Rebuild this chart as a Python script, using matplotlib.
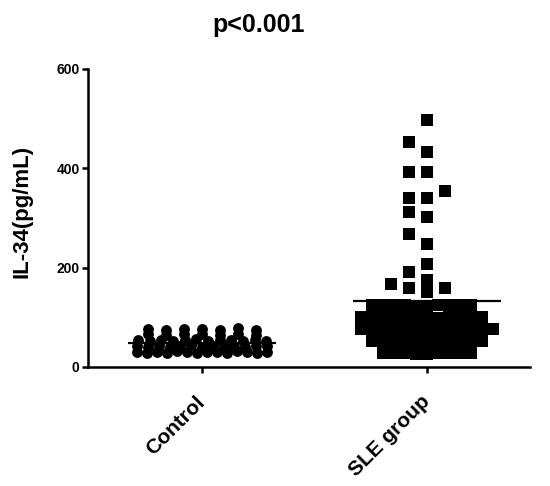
import numpy as np
import matplotlib
matplotlib.use("Agg")
import matplotlib.pyplot as plt

plt.rcParams['font.family'] = ['Liberation Sans', 'DejaVu Sans']
plt.rcParams['font.weight'] = 'bold'

# ---- data ----
categories = ["Control", "SLE group"]
control_values = [30, 29, 31, 28, 32, 30, 29, 31, 30, 28, 32, 31, 29, 30,
                  42, 41, 43, 40, 42, 44, 41, 43, 42, 40, 41, 43, 42,
                  54, 53, 55, 52, 54, 56, 53, 55, 54, 52, 55, 53,
                  66, 65, 67, 66, 64, 67, 65,
                  76, 75, 77, 76, 74, 78, 75]
sle_values = [28, 27, 29, 28, 28, 29, 27, 28, 29,
              52, 51, 53, 52, 52, 53, 51, 52, 52, 53, 51,
              76, 75, 77, 76, 76, 77, 75, 76, 76, 77, 75, 76, 77,
              100, 99, 101, 100, 100, 101, 99, 100, 100, 101, 99, 100,
              124, 123, 125, 124, 124, 125, 123, 124, 124, 125,
              151, 159, 159, 167, 175, 191, 207,
              248, 268, 302, 312, 340, 340, 354, 393, 393, 433, 453, 497]
title = "p<0.001"
ylabel = "IL-34(pg/mL)"
yticks = [0, 200, 400, 600]

# ---- layout ----
W, H, DPI = 550, 486, 100
fig = plt.figure(figsize=(W / DPI, H / DPI), dpi=DPI)
ax_l, ax_r, ax_b, ax_t = 88, 530, 367, 69
ax = fig.add_axes([ax_l / W, 1 - ax_b / H, (ax_r - ax_l) / W, (ax_b - ax_t) / H])
xlim = (0.4933, 2.4578)
ylim = (0, 600)
ax.set_xlim(*xlim)
ax.set_ylim(*ylim)
px_per_x = (ax_r - ax_l) / (xlim[1] - xlim[0])
px_per_y = (ax_b - ax_t) / (ylim[1] - ylim[0])


def row_layout(center, values, row_base, row_h, width_px, cap_px):
    """Group points into horizontal rows and spread each row evenly."""
    vals = np.asarray(values, float)
    rows = np.round((vals - row_base) / row_h).astype(int)
    xs = np.zeros_like(vals)
    for r in np.unique(rows):
        idx = np.where(rows == r)[0]
        k = len(idx)
        sp = min(width_px / k, cap_px) if k > 1 else 0
        offs = (np.arange(k) - (k - 1) / 2) * sp
        xs[idx] = center + offs / px_per_x
    return xs


def slot_swarm(center, values, cap_px, width_px, thresh_px):
    """Beeswarm: each point takes the nearest free column slot (0, -1, +1, ...);
    crowded clusters are squeezed to fit the given width."""
    vals = np.asarray(values, float)
    thresh = thresh_px / px_per_y
    order = np.argsort(vals, kind='stable')
    placed = {}
    slots = np.zeros(len(vals), int)
    for i in order:
        v = vals[i]
        n = 0
        while True:
            slot = 0 if n == 0 else (-((n + 1) // 2) if n % 2 == 1 else n // 2)
            if all(abs(v - u) >= thresh for u in placed.get(slot, [])):
                break
            n += 1
        placed.setdefault(slot, []).append(v)
        slots[i] = slot
    xs = np.zeros_like(vals)
    sv = vals[order]
    breaks = np.where(np.diff(sv) >= thresh)[0] + 1
    for grp in np.split(order, breaks):
        s = slots[grp]
        span = s.max() - s.min() + 1
        step = min(cap_px, width_px / span)
        shift = (s.max() + s.min()) / 2 if len(grp) >= 8 else 0
        xs[grp] = center + (s - shift) * step / px_per_x
    return xs


cx = [1, 2]
xc = row_layout(cx[0], control_values, 30, 12, 140, 18)
xs = slot_swarm(cx[1], sle_values, 18, 142, 11)

ax.plot(xc, control_values, 'o', color='black', markersize=7.8, markeredgewidth=0)
ax.plot(xs, sle_values, 's', color='black', markersize=8.0, markeredgewidth=0)

half = 0.33
for c, v in zip(cx, [control_values, sle_values]):
    m = np.mean(v)
    ax.plot([c - half, c + half], [m, m], color='black', lw=1.6, solid_capstyle='butt')

for s in ['top', 'right']:
    ax.spines[s].set_visible(False)
for s in ['left', 'bottom']:
    ax.spines[s].set_linewidth(1.8)

ax.set_yticks(yticks)
ax.set_yticklabels([str(t) for t in yticks], fontsize=10, fontweight='bold')
ax.set_xticks(cx)
ax.set_xticklabels(categories, rotation=45, ha='right', va='center', rotation_mode='anchor',
                   fontsize=15, fontweight='bold')
ax.tick_params(axis='y', direction='out', width=1.8, length=4, pad=2)
ax.tick_params(axis='x', direction='out', width=1.8, length=4, pad=19)
ax.set_ylabel(ylabel, fontsize=16, fontweight='bold')
ax.yaxis.set_label_coords(-0.125, 0.523)

fig.text(259 / W, 1 - 25 / H, title, fontsize=18, fontweight='bold', ha='center', va='center')

fig.savefig("out.png", dpi=DPI)
